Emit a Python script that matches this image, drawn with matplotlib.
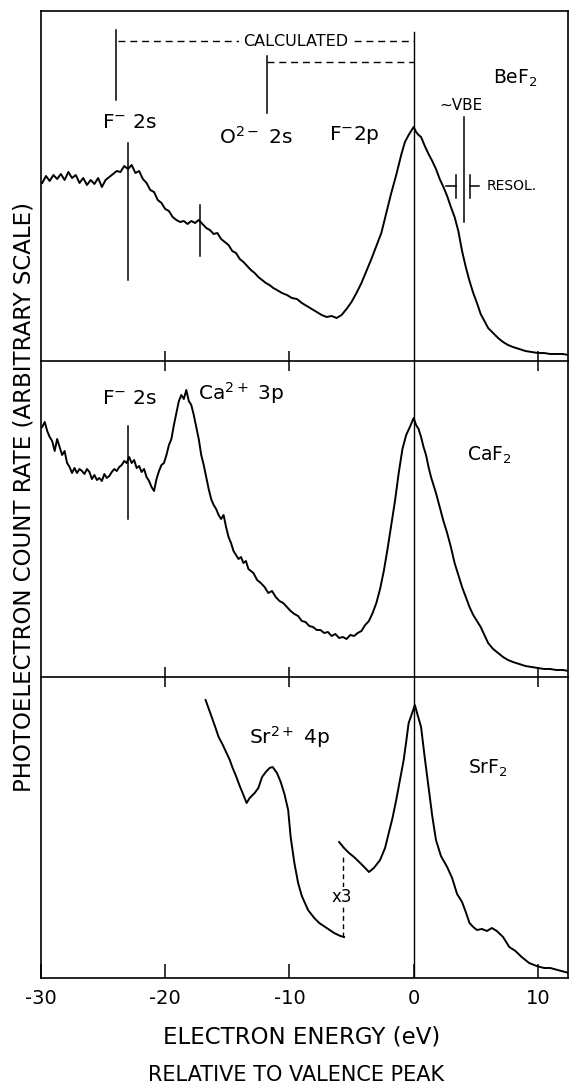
import matplotlib
matplotlib.use("Agg")
import matplotlib.pyplot as plt
import numpy as np

plt.rcParams['font.family'] = ['DejaVu Sans']
plt.rcParams['mathtext.default'] = 'regular'

# BeF2 spectrum (energy in eV, height in arbitrary units)
bef2_e = [-29.9, -29.6, -29.3, -29.0, -28.7, -28.4, -28.1, -27.8, -27.5, -27.2,
          -26.9, -26.6, -26.3, -26.0, -25.7, -25.4, -25.1, -24.8, -24.5, -24.2,
          -23.9, -23.6, -23.3, -23.0, -22.7, -22.4, -22.1, -21.8, -21.5, -21.2,
          -20.9, -20.6, -20.3, -20.0, -19.7, -19.4, -19.1, -18.8, -18.5, -18.2,
          -17.9, -17.6, -17.3, -17.0, -16.7, -16.4, -16.1, -15.8, -15.5, -15.2,
          -14.9, -14.6, -14.3, -14.0, -13.7, -13.4, -13.1, -12.8, -12.5, -12.2,
          -11.9, -11.6, -11.3, -11.0, -10.6, -10.2, -9.8, -9.4, -9.0, -8.6,
          -8.2, -7.8, -7.4, -7.0, -6.6, -6.2, -5.8, -5.4, -5.0, -4.6,
          -4.2, -3.8, -3.4, -3.0, -2.6, -2.2, -1.8, -1.4, -1.0, -0.7,
          -0.4, -0.2, 0.0, 0.2, 0.4, 0.6, 0.9, 1.2, 1.5, 1.8,
          2.1, 2.4, 2.7, 3.0, 3.3, 3.6, 3.9, 4.2, 4.5, 4.8,
          5.1, 5.4, 5.7, 6.0, 6.4, 6.8, 7.2, 7.6, 8.0, 8.5,
          9.0, 9.5, 10.0, 10.5, 11.0, 11.5, 12.0, 12.5]
bef2_h = [178, 185, 180, 186, 182, 187, 181, 189, 183, 186,
          178, 183, 176, 181, 177, 183, 174, 181, 184, 187,
          190, 189, 195, 192, 196, 188, 190, 182, 178, 171,
          169, 161, 158, 152, 150, 144, 141, 139, 140, 137,
          140, 138, 141, 137, 133, 131, 127, 128, 122, 119,
          116, 110, 108, 102, 99, 95, 91, 88, 84, 81,
          78, 76, 73, 71, 68, 66, 63, 62, 58, 55,
          52, 49, 46, 44, 45, 43, 46, 52, 59, 68,
          78, 90, 102, 115, 128, 148, 168, 186, 206, 219,
          226, 230, 234, 229, 226, 224, 215, 207, 200, 192,
          182, 174, 165, 154, 144, 130, 110, 94, 80, 68,
          58, 47, 40, 33, 28, 23, 19, 16, 14, 12,
          10, 9, 8, 8, 7, 7, 7, 6]

# CaF2 spectrum
caf2_e = [-29.9, -29.7, -29.5, -29.3, -29.1, -28.9, -28.7, -28.5, -28.3, -28.1,
          -27.9, -27.7, -27.5, -27.3, -27.1, -26.9, -26.7, -26.5, -26.3, -26.1,
          -25.9, -25.7, -25.5, -25.3, -25.1, -24.9, -24.7, -24.5, -24.3, -24.1,
          -23.9, -23.7, -23.5, -23.3, -23.1, -22.9, -22.7, -22.5, -22.3, -22.1,
          -21.9, -21.7, -21.5, -21.3, -21.1, -20.9, -20.7, -20.5, -20.3, -20.1,
          -19.9, -19.7, -19.5, -19.3, -19.1, -18.9, -18.7, -18.5, -18.3, -18.1,
          -17.9, -17.7, -17.5, -17.3, -17.1, -16.9, -16.7, -16.5, -16.3, -16.1,
          -15.9, -15.7, -15.5, -15.3, -15.1, -14.9, -14.7, -14.5, -14.3, -14.1,
          -13.9, -13.7, -13.5, -13.3, -13.1, -12.9, -12.6, -12.3, -12.0, -11.7,
          -11.4, -11.1, -10.8, -10.5, -10.2, -9.9, -9.6, -9.3, -9.0, -8.7,
          -8.4, -8.1, -7.8, -7.5, -7.2, -6.9, -6.6, -6.3, -6.0, -5.7,
          -5.4, -5.1, -4.8, -4.5, -4.2, -3.9, -3.6, -3.3, -3.0, -2.7,
          -2.4, -2.1, -1.8, -1.5, -1.2, -0.9, -0.6, -0.3, -0.1, 0.0,
          0.2, 0.4, 0.6, 0.8, 1.0, 1.2, 1.4, 1.6, 1.8, 2.1,
          2.4, 2.7, 3.0, 3.3, 3.6, 3.9, 4.2, 4.5, 4.8, 5.1,
          5.4, 5.7, 6.0, 6.4, 6.8, 7.2, 7.6, 8.0, 8.5, 9.0,
          9.5, 10.0, 10.5, 11.0, 11.5, 12.0, 12.5]
caf2_h = [250, 255, 246, 240, 236, 226, 238, 230, 222, 226,
          214, 210, 204, 209, 204, 208, 206, 203, 208, 205,
          198, 202, 197, 199, 196, 203, 199, 201, 205, 208,
          206, 210, 212, 216, 214, 220, 214, 217, 209, 211,
          205, 208, 200, 196, 190, 186, 198, 206, 212, 214,
          222, 232, 238, 252, 264, 276, 282, 278, 287, 276,
          272, 262, 250, 238, 222, 212, 200, 188, 178, 172,
          168, 162, 158, 162, 150, 140, 134, 126, 122, 118,
          120, 114, 116, 108, 106, 104, 97, 94, 90, 84,
          86, 80, 76, 74, 70, 66, 63, 61, 56, 55,
          51, 50, 47, 47, 44, 45, 41, 43, 39, 40,
          38, 42, 41, 44, 46, 52, 56, 64, 74, 88,
          106, 128, 152, 176, 204, 228, 242, 250, 256, 259,
          252, 248, 240, 230, 222, 210, 200, 192, 184, 170,
          156, 144, 130, 114, 102, 90, 80, 70, 62, 56,
          50, 42, 34, 28, 24, 20, 17, 15, 13, 11,
          10, 9, 8, 8, 7, 7, 6]

# SrF2: Sr 4p region (x3) and valence region
sr4p_e = [-16.75, -16.4, -16.0, -15.7, -15.4, -15.1, -14.8, -14.6, -14.3, -14.0,
          -13.7, -13.45, -13.2, -12.8, -12.5, -12.2, -11.9, -11.6, -11.35, -11.0,
          -10.7, -10.4, -10.1, -9.9, -9.6, -9.3, -9.0, -8.5, -8.0, -7.6,
          -7.0, -6.4, -5.9, -5.6]
sr4p_h = [278, 266, 252, 241, 234, 226, 218, 211, 202, 192,
          183, 175, 180, 185, 190, 201, 206, 210, 211, 205,
          196, 184, 168, 141, 115, 95, 82, 68, 60, 55,
          50, 45, 42, 41]
srf2_e = [-6.0, -5.6, -5.2, -4.8, -4.3, -3.9, -3.6, -3.2, -2.7, -2.3,
          -2.0, -1.7, -1.4, -1.1, -0.8, -0.6, -0.4, -0.2, 0.1, 0.3,
          0.6, 0.9, 1.2, 1.5, 1.8, 2.2, 2.7, 3.1, 3.5, 3.9,
          4.2, 4.5, 4.8, 5.1, 5.5, 5.9, 6.3, 6.7, 7.2, 7.7,
          8.2, 8.7, 9.3, 9.9, 10.5, 11.0, 11.6, 12.5]
srf2_h = [136, 130, 125, 121, 115, 110, 106, 110, 118, 130,
          145, 160, 178, 198, 218, 236, 255, 262, 273, 264,
          251, 220, 191, 162, 138, 122, 111, 100, 84, 76,
          66, 55, 51, 48, 49, 47, 50, 47, 41, 31,
          27, 21, 15, 12, 10, 10, 8, 5]

W, H = 569, 1086
fig = plt.figure(figsize=(W / 100, H / 100), dpi=100)

left = 41 / W
width = 527 / W
ax_top = fig.add_axes([left, 1 - 361 / H, width, 350 / H])
ax_mid = fig.add_axes([left, 1 - 677 / H, width, 316 / H])
ax_bot = fig.add_axes([left, 1 - 978 / H, width, 301 / H])

lw = 1.4
ax_top.plot(bef2_e, bef2_h, color='black', lw=lw)
ax_mid.plot(caf2_e, caf2_h, color='black', lw=lw)
ax_bot.plot(sr4p_e, sr4p_h, color='black', lw=lw)
ax_bot.plot(srf2_e, srf2_h, color='black', lw=lw)

for ax, top in [(ax_top, 350), (ax_mid, 316), (ax_bot, 301)]:
    ax.patch.set_visible(False)  # so the separator ticks are not hidden
    ax.set_xlim(-30, 12.43)
    ax.set_ylim(0, top)
    ax.set_yticks([])
    for s in ax.spines.values():
        s.set_linewidth(1.2)

ax_top.axvline(0, ymin=0, ymax=329 / 350, color='black', lw=1.0)
ax_mid.axvline(0, color='black', lw=1.0)
ax_bot.axvline(0, color='black', lw=1.0)
ax_mid.spines['top'].set_visible(False)
ax_bot.spines['top'].set_visible(False)

for ax in [ax_top, ax_mid]:
    ax.set_xticks([-20, -10, 10])
    ax.tick_params(axis='x', direction='inout', length=14, width=1.1, labelbottom=False)

ax_bot.set_xticks([-30, -20, -10, 0, 10])
ax_bot.set_xticklabels(['-30', '-20', '-10', '0', '10'])
ax_bot.tick_params(axis='x', direction='in', length=10, width=1.1, labelsize=14, pad=8)

# ---- BeF2 annotations
dash = dict(color='black', lw=1.0, linestyle=(0, (5, 3.5)))
ax_top.plot([-24.0, -24.0], [261, 331], color='black', lw=1.1)
ax_top.plot([-23.8, 0], [320, 320], **dash)
ax_top.text(-9.5, 320, 'CALCULATED', ha='center', va='center', fontsize=11.5,
            bbox=dict(facecolor='white', edgecolor='none', pad=3))
ax_top.plot([-11.8, -11.8], [248, 305], color='black', lw=1.1)
ax_top.plot([-11.8, 0], [299, 299], **dash)

ax_top.text(-22.9, 238, 'F$^{-}$ 2s', ha='center', va='center', fontsize=14.5)
ax_top.text(-12.7, 224, 'O$^{2-}$ 2s', ha='center', va='center', fontsize=14.5)
ax_top.text(-4.75, 226, 'F$^{-}$2p', ha='center', va='center', fontsize=14.5)
ax_top.plot([-23.0, -23.0], [81, 218], color='black', lw=1.1)
ax_top.plot([-17.2, -17.2], [105, 156], color='black', lw=1.1)

ax_top.plot([4.03, 4.03], [139, 244], color='black', lw=1.1)
ax_top.text(3.8, 255, '~VBE', ha='center', va='center', fontsize=11)
ax_top.plot([3.45, 3.45], [163, 186], color='black', lw=1.1)
ax_top.plot([4.5, 4.5], [163, 186], color='black', lw=1.1)
ax_top.plot([2.6, 3.45], [175, 175], color='black', lw=1.1)
ax_top.plot([4.5, 5.3], [175, 175], color='black', lw=1.1)
ax_top.text(5.9, 175, 'RESOL.', ha='left', va='center', fontsize=10)
ax_top.text(8.2, 283, 'BeF$_2$', ha='center', va='center', fontsize=13.5)

# ---- CaF2 annotations
ax_mid.text(-22.9, 279, 'F$^{-}$ 2s', ha='center', va='center', fontsize=14.5)
ax_mid.text(-13.9, 284, 'Ca$^{2+}$ 3p', ha='center', va='center', fontsize=14.5)
ax_mid.plot([-23.0, -23.0], [158, 251], color='black', lw=1.1)
ax_mid.text(6.1, 222, 'CaF$_2$', ha='center', va='center', fontsize=13.5)

# ---- SrF2 annotations
ax_bot.text(-10.0, 241, 'Sr$^{2+}$ 4p', ha='center', va='center', fontsize=14.5)
ax_bot.text(6.0, 210, 'SrF$_2$', ha='center', va='center', fontsize=13.5)
ax_bot.plot([-5.7, -5.7], [41, 123], color='black', lw=1.0, linestyle=(0, (3.5, 2.5)))
ax_bot.text(-5.8, 81, 'x3', ha='center', va='center', fontsize=12,
            bbox=dict(facecolor='white', edgecolor='none', pad=1))

# ---- axis labels
fig.text(24.5 / W, 1 - 497 / H, 'PHOTOELECTRON COUNT RATE (ARBITRARY SCALE)',
         rotation=90, ha='center', va='center', fontsize=16.5)
fig.text(302 / W, 1 - 1037 / H, 'ELECTRON ENERGY (eV)', ha='center', va='center', fontsize=16.5)
fig.text(296 / W, 1 - 1075 / H, 'RELATIVE TO VALENCE PEAK', ha='center', va='center', fontsize=15)

fig.savefig('out.png', dpi=100)
